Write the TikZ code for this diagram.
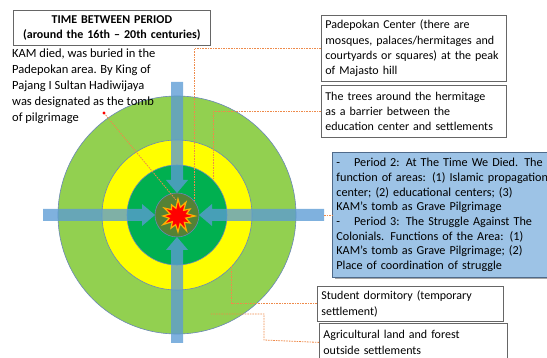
\documentclass[tikz,border=0pt]{standalone}
\usepackage{fontspec}
\setmainfont{Carlito}
\definecolor{lgreen}{HTML}{92D050}
\definecolor{yel}{HTML}{FFFF00}
\definecolor{dgreen}{HTML}{00B050}
\definecolor{olivec}{HTML}{548235}
\definecolor{ringline}{HTML}{6A86B8}
\definecolor{arrowblue}{HTML}{5B9BD5}
\definecolor{boxblue}{HTML}{9DC3E6}
\definecolor{boxedge}{HTML}{4F6A8A}
\definecolor{dashor}{HTML}{EE8A4A}
\definecolor{staredge}{HTML}{FFB000}
\begin{document}
\begin{tikzpicture}[x=1pt,y=-1pt,
  ring/.style={draw=ringline, line width=0.6pt},
  blockarrow/.style={fill=arrowblue, fill opacity=0.78, draw=none},
  leader/.style={draw=dashor, line width=0.8pt, dash pattern=on 1.6pt off 1pt},
  basefont/.style={font=\fontsize{12}{15.3}\selectfont},
  wbox/.style={basefont, draw=black!60, line width=0.8pt, fill=white, inner xsep=4pt, inner ysep=1pt, align=left, anchor=north west},
  bbox/.style={font=\fontsize{12.2}{14.7}\selectfont, draw=boxedge, line width=0.8pt, fill=boxblue, inner xsep=4pt, inner ysep=1pt, align=left, anchor=north west},
  plain/.style={font=\fontsize{12.5}{16}\selectfont, inner sep=0pt, align=left, anchor=north west}]
\useasboundingbox (0,0) rectangle (547,358);
\clip (0,0) rectangle (547,358);

% rings
\coordinate (c) at (177,215);
\fill[lgreen] (c) circle (119); \draw[ring] (c) circle (119);
\fill[yel] (c) circle (75); \draw[ring] (c) circle (75);
\fill[dgreen] (c) circle (50); \draw[ring] (c) circle (50);
\fill[olivec] (c) circle (22); \draw[ring] (c) circle (22);

% block arrows
\fill[blockarrow] (43,209) -- (142,209) -- (142,204) -- (155,215) -- (142,226) -- (142,221) -- (43,221) -- cycle;
\fill[blockarrow] (324,209) -- (212,209) -- (212,204) -- (199,215) -- (212,226) -- (212,221) -- (324,221) -- cycle;
\fill[blockarrow] (171,82) -- (171,180) -- (166,180) -- (177,193) -- (188,180) -- (183,180) -- (183,82) -- cycle;
\fill[blockarrow] (171,343) -- (171,250) -- (166,250) -- (177,237) -- (188,250) -- (183,250) -- (183,343) -- cycle;

% star
\fill[red, draw=staredge, line width=1.2pt, line join=miter]
  (178+17,216) -- ({178+9*cos(15)},{216-9*sin(15)})
  -- ({178+14*cos(30)},{216-14*sin(30)}) -- ({178+8*cos(45)},{216-8*sin(45)})
  -- ({178+16*cos(60)},{216-16*sin(60)}) -- ({178+9*cos(75)},{216-9*sin(75)})
  -- ({178+17*cos(90)},{216-17*sin(90)}) -- ({178+8*cos(105)},{216-8*sin(105)})
  -- ({178+13*cos(120)},{216-13*sin(120)}) -- ({178+9*cos(135)},{216-9*sin(135)})
  -- ({178+16*cos(150)},{216-16*sin(150)}) -- ({178+8*cos(165)},{216-8*sin(165)})
  -- ({178+15*cos(180)},{216-15*sin(180)}) -- ({178+9*cos(195)},{216-9*sin(195)})
  -- ({178+17*cos(210)},{216-17*sin(210)}) -- ({178+8*cos(225)},{216-8*sin(225)})
  -- ({178+14*cos(240)},{216-14*sin(240)}) -- ({178+9*cos(255)},{216-9*sin(255)})
  -- ({178+16*cos(270)},{216-16*sin(270)}) -- ({178+8*cos(285)},{216-8*sin(285)})
  -- ({178+17*cos(300)},{216-17*sin(300)}) -- ({178+9*cos(315)},{216-9*sin(315)})
  -- ({178+14*cos(330)},{216-14*sin(330)}) -- ({178+8*cos(345)},{216-8*sin(345)})
  -- cycle;

% text boxes
\node[wbox, text width=189pt, minimum width=197pt, minimum height=35pt, inner xsep=4pt, align=center, font=\fontsize{12}{15}\selectfont\bfseries] (title) at (13,10)
  {TIME BETWEEN PERIOD\\(around the 16th -- 20th centuries)};
\node[plain] (kam) at (12,49)
  {KAM died, was buried in the\\Padepokan area. By King of\\Pajang I Sultan Hadiwijaya\\was designated as the tomb\\of pilgrimage};
\node[wbox, text width=177pt, minimum width=185pt, minimum height=66pt] (pade) at (321,15)
  {Padepokan Center (there are\\mosques, palaces/hermitages and\\courtyards or squares) at the peak\\of Majasto hill};
\node[wbox, text width=177pt, minimum width=185pt, minimum height=52pt] (trees) at (321,85)
  {The trees around the hermitage\\as a barrier between the\\education center and settlements};
\fill[black!35] (334.5,154.5) rectangle (549,279.5);
\node[bbox, text width=207pt, minimum width=215pt, minimum height=125pt] (period) at (332,152)
  {\makebox[207pt][s]{-\hspace{14pt}Period 2: At The Time We Died. The}\\
   \makebox[207pt][s]{function of areas: (1) Islamic propagation}\\
   \makebox[207pt][s]{center; (2) educational centers; (3)}\\
   KAM's tomb as Grave Pilgrimage\\
   \makebox[207pt][s]{-\hspace{14pt}Period 3: The Struggle Against The}\\
   \makebox[207pt][s]{Colonials. Functions of the Area: (1)}\\
   \makebox[207pt][s]{KAM's tomb as Grave Pilgrimage; (2)}\\
   Place of coordination of struggle};
\node[wbox, text width=178pt, minimum width=186pt, minimum height=35pt] (dorm) at (317,286)
  {Student dormitory (temporary\\settlement)};
\node[wbox, text width=180pt, minimum width=188pt, minimum height=38pt] (agri) at (319,323)
  {Agricultural land and forest\\outside settlements};

% leader lines
\coordinate (kamdot) at (104,113);
\coordinate (starpt) at (176,200);
\coordinate (padeend) at (194,200);
\coordinate (treesend) at (213,178);
\coordinate (arrowend) at (324,215);
\coordinate (dormend) at (231,266);
\coordinate (agriend) at (210,314);
\draw[leader] (kamdot) -- (starpt);
\fill[red] (kamdot) circle (1.6);
\draw[leader] (pade.west) -- (padeend |- pade.west) -- (padeend);
\draw[leader] (trees.west) -- (treesend |- trees.west) -- (treesend);
\draw[leader] (arrowend) -- (arrowend -| period.west);
\draw[leader] (dorm.west) -- (dormend |- dorm.west) -- (dormend);
\draw[leader] (agri.west) -- (264,340) -- (264,314) -- (agriend);
\end{tikzpicture}
\end{document}
